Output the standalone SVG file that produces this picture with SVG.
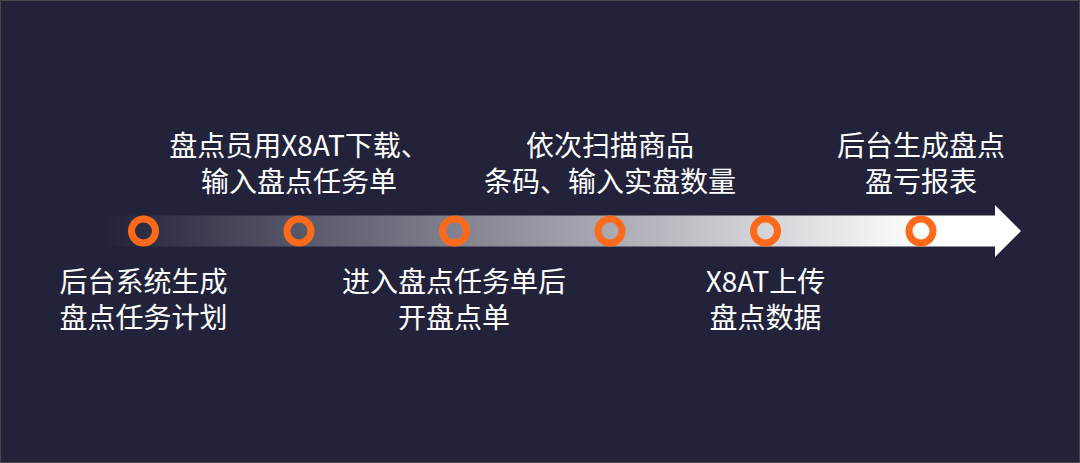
<svg xmlns="http://www.w3.org/2000/svg" width="1080" height="463" viewBox="0 0 1080 463">
<defs>
<linearGradient id="barGrad" gradientUnits="userSpaceOnUse" x1="105" y1="0" x2="925" y2="0">
<stop offset="0" stop-color="#22233a"/>
<stop offset="1" stop-color="#ffffff"/>
</linearGradient>
<style>
.lbl{font-family:"Noto Sans CJK SC","Noto Sans",sans-serif;font-size:28px;fill:#ffffff;text-anchor:middle}
.dot{fill:none;stroke:#ff6a1a;stroke-width:7}
</style>
</defs>
<rect x="0.5" y="0.5" width="1079" height="462" fill="#22233a" stroke="#4a4a4e" stroke-width="1"/>
<g id="connectors">
<path d="M105,215.5 L995,215.5 L995,205 L1021,231 L995,257 L995,246.5 L105,246.5 Z" fill="url(#barGrad)"/>
</g>
<g id="node1">
<circle class="dot" cx="143.5" cy="231" r="12"/>
<text class="lbl" x="143.5" y="292">后台系统生成</text>
<text class="lbl" x="143.5" y="328">盘点任务计划</text>
</g>
<g id="node2">
<circle class="dot" cx="299" cy="231" r="12"/>
<text class="lbl" x="299" y="156">盘点员用X8AT下载、</text>
<text class="lbl" x="299" y="192">输入盘点任务单</text>
</g>
<g id="node3">
<circle class="dot" cx="454.5" cy="231" r="12"/>
<text class="lbl" x="454" y="292">进入盘点任务单后</text>
<text class="lbl" x="454" y="328">开盘点单</text>
</g>
<g id="node4">
<circle class="dot" cx="610" cy="231" r="12"/>
<text class="lbl" x="610" y="156">依次扫描商品</text>
<text class="lbl" x="610" y="192">条码、输入实盘数量</text>
</g>
<g id="node5">
<circle class="dot" cx="765.5" cy="231" r="12"/>
<text class="lbl" x="765.5" y="292">X8AT上传</text>
<text class="lbl" x="765.5" y="328">盘点数据</text>
</g>
<g id="node6">
<circle class="dot" cx="921" cy="231" r="12"/>
<text class="lbl" x="921" y="156">后台生成盘点</text>
<text class="lbl" x="921" y="192">盈亏报表</text>
</g>
</svg>
